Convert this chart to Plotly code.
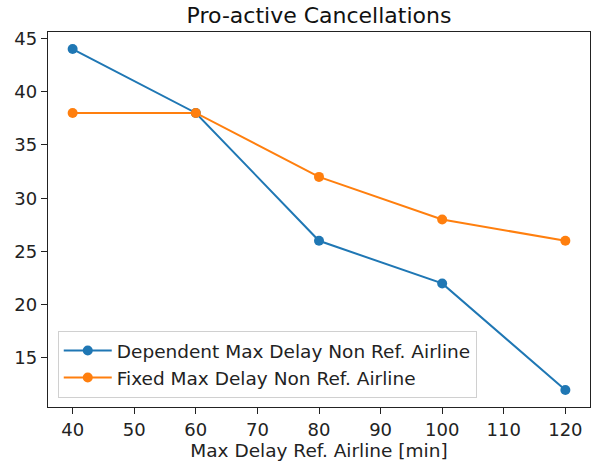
import plotly.graph_objects as go

# Max delay of the reference airline (minutes)
max_delay = [40, 60, 80, 100, 120]
# Pro-active cancellations per policy
dependent = [44, 38, 26, 22, 12]
fixed = [38, 38, 32, 28, 26]

series_names = [
    "Dependent Max Delay Non Ref. Airline",
    "Fixed Max Delay Non Ref. Airline",
]
series_colors = ["#1f77b4", "#ff7f0e"]

FONT = "DejaVu Sans"

fig = go.Figure()
for name, vals, color in zip(series_names, [dependent, fixed], series_colors):
    fig.add_trace(
        go.Scatter(
            x=max_delay,
            y=vals,
            mode="lines+markers",
            name=name,
            line=dict(color=color, width=2),
            marker=dict(color=color, size=10),
        )
    )

axis_common = dict(
    showgrid=False,
    zeroline=False,
    showline=True,
    linecolor="#222",
    linewidth=1.3,
    mirror=True,
    ticks="outside",
    ticklen=6,
    tickwidth=1.3,
    tickcolor="#222",
    tickfont=dict(family=FONT, size=18, color="#222"),
)

fig.update_layout(
    width=593,
    height=461,
    margin=dict(l=48, r=3, t=32, b=54),
    paper_bgcolor="white",
    plot_bgcolor="white",
    font=dict(family=FONT, color="#222"),
    title=dict(
        text="Pro-active Cancellations",
        font=dict(family=FONT, size=22, color="#111"),
        x=0.5,
        xref="paper",
        xanchor="center",
        y=1 - 15 / 461,
        yref="container",
        yanchor="middle",
    ),
    xaxis=dict(
        range=[36, 124],
        tickvals=[40, 50, 60, 70, 80, 90, 100, 110, 120],
        title=dict(
            text="Max Delay Ref. Airline [min]",
            font=dict(family=FONT, size=18.5, color="#222"),
            standoff=1,
        ),
        **axis_common,
    ),
    yaxis=dict(
        range=[10.4, 45.6],
        tickvals=[15, 20, 25, 30, 35, 40, 45],
        **axis_common,
    ),
    legend=dict(
        x=0.018,
        y=0.024,
        xanchor="left",
        yanchor="bottom",
        bgcolor="rgba(255,255,255,0.8)",
        bordercolor="#d0d0d0",
        borderwidth=1,
        font=dict(family=FONT, size=18.5, color="#222"),
        itemwidth=48,
        tracegroupgap=0,
    ),
    showlegend=True,
)

fig.write_html("out.html")
